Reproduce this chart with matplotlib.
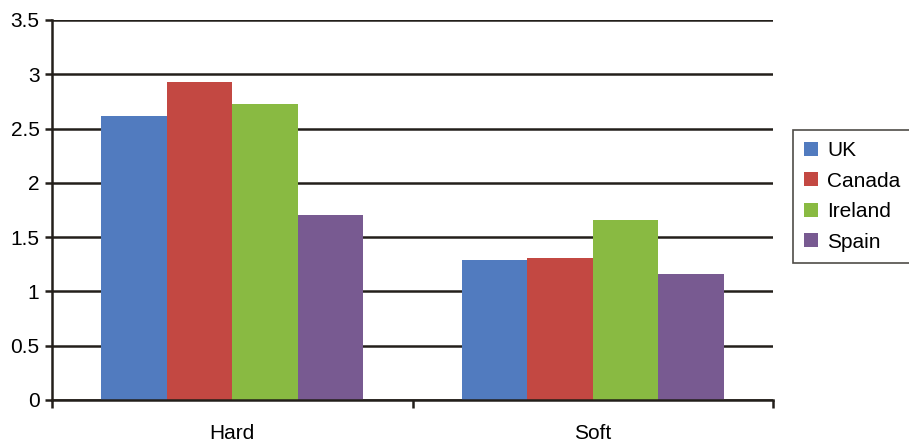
import matplotlib.pyplot as plt
import numpy as np

plt.rcParams['font.family'] = ['Liberation Sans', 'DejaVu Sans']

categories = ['Hard', 'Soft']
countries = ['UK', 'Canada', 'Ireland', 'Spain']
values = {
    'UK': [2.62, 1.29],
    'Canada': [2.93, 1.31],
    'Ireland': [2.73, 1.66],
    'Spain': [1.70, 1.16],
}
colors = ['#517BBF', '#C34842', '#89BA42', '#785A91']
yticks = [0, 0.5, 1, 1.5, 2, 2.5, 3, 3.5]

dark = '#231F1A'

fig = plt.figure(figsize=(9.09, 4.43), dpi=100)
ax = fig.add_axes([0.0572, 0.0971, 0.7932, 0.8578])

x = np.arange(len(categories))
width = 0.182
for i, (name, color) in enumerate(zip(countries, colors)):
    offset = (i - 1.5) * width
    ax.bar(x + offset, values[name], width, color=color, label=name, zorder=3)

ax.set_xlim(-0.5, 1.5)
ax.set_ylim(0, 3.5)
ax.set_yticks(yticks)
ax.set_yticklabels(['0', '0.5', '1', '1.5', '2', '2.5', '3', '3.5'])
ax.yaxis.grid(True, color=dark, linewidth=1.8, zorder=1)

# category labels centred, boundary ticks on the axis line
ax.set_xticks([-0.5, 0.5, 1.5])
ax.set_xticklabels([])
ax.set_xticks(x, minor=True)
ax.set_xticklabels(categories, minor=True)
ax.tick_params(axis='x', which='major', direction='out', length=6, width=1.8, color=dark)
ax.tick_params(axis='x', which='minor', length=0, pad=17, labelsize=15)
ax.tick_params(axis='y', direction='out', length=5, width=1.8, color=dark, labelsize=15, pad=4)

for side in ['top', 'right']:
    ax.spines[side].set_visible(False)
for side in ['left', 'bottom']:
    ax.spines[side].set_color(dark)
    ax.spines[side].set_linewidth(1.8)
    ax.spines[side].set_zorder(4)

leg = fig.legend(loc='upper left', bbox_to_anchor=(0.8724, 0.707), fontsize=15,
                 frameon=True, fancybox=False, handlelength=0.65, handleheight=0.65,
                 handletextpad=0.45, labelspacing=0.55, borderpad=0.55, borderaxespad=0)
leg.get_frame().set_edgecolor(dark)
leg.get_frame().set_linewidth(1.2)

fig.savefig('out.png', dpi=100)
